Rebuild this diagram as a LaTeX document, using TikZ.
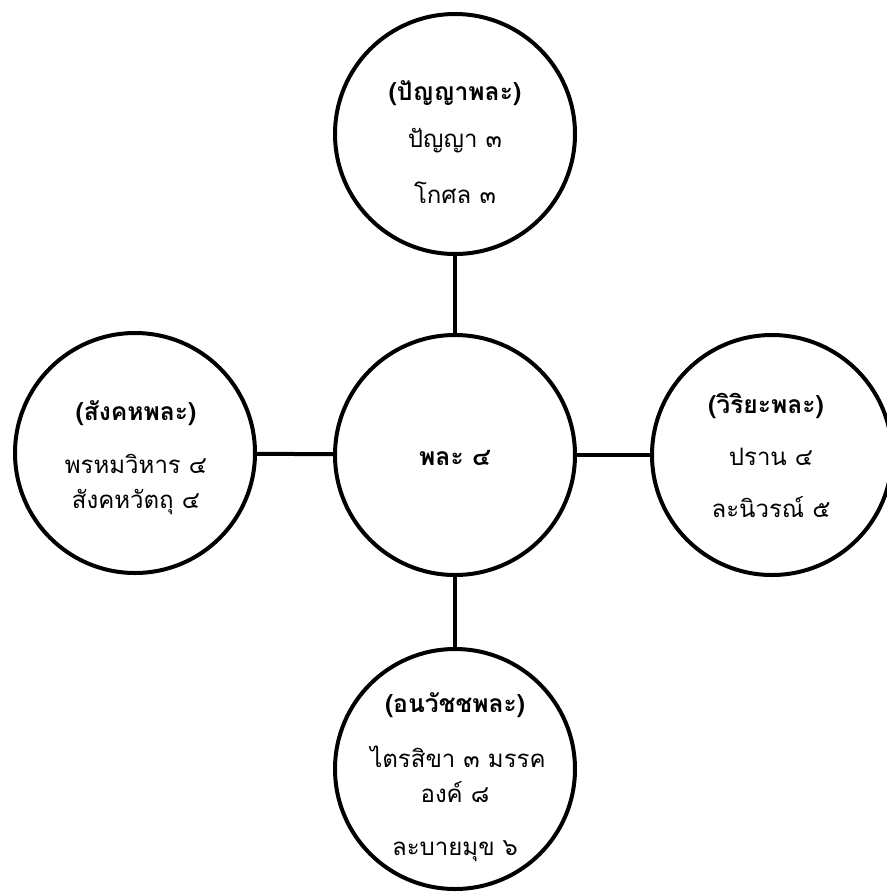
\documentclass[tikz,border=0pt]{standalone}
\usepackage{fontspec}
\newfontfamily\thaifont[Script=Thai]{Loma}
\begin{document}
\begin{tikzpicture}[x=0.75pt,y=-0.75pt,
    ring/.style={circle,draw,line width=3pt,minimum size=180pt,inner sep=0pt},
    txt/.style={anchor=base,font=\thaifont\fontsize{18}{21}\selectfont},
    head/.style={anchor=base,font=\thaifont\bfseries\fontsize{18.5}{21}\selectfont}]
    \useasboundingbox (0,0) rectangle (886,893);

    % Draw the circles
    \node[ring] (pala) at (455,455) {};
    \node[ring] (panya) at (455,134) {};
    \node[ring] (sangkaha) at (135,453) {};
    \node[ring] (viriya) at (772,455) {};
    \node[ring] (anavajja) at (455,769) {};

    % Connectors
    \draw[line width=3pt] (pala) -- (panya);
    \draw[line width=3pt] (pala) -- (sangkaha);
    \draw[line width=3pt] (pala) -- (viriya);
    \draw[line width=3pt] (pala) -- (anavajja);

    % Centre label
    \node[head] (palaT) at (455,465) {พละ ๔};

    % Top circle
    \node[head] (panyaT) at (455,100) {(ปัญญาพละ)};
    \node[txt] (panyaA) at (455,147) {ปัญญา ๓};
    \node[txt] (panyaB) at (455,203) {โกศล ๓};

    % Left circle
    \node[head] (sangkahaT) at (136,420) {(สังคหพละ)};
    \node[txt] (sangkahaA) at (136,473) {พรหมวิหาร ๔};
    \node[txt] (sangkahaB) at (136,508) {สังคหวัตถุ ๔};

    % Right circle
    \node[head] (viriyaT) at (766,413) {(วิริยะพละ)};
    \node[txt] (viriyaA) at (771,465) {ปราน ๔};
    \node[txt] (viriyaB) at (771,517) {ละนิวรณ์ ๕};

    % Bottom circle
    \node[head] (anavajjaT) at (455,712) {(อนวัชชพละ)};
    \node[txt] (anavajjaA) at (458,767) {ไตรสิขา ๓ มรรค};
    \node[txt] (anavajjaB) at (455,802) {องค์ ๘};
    \node[txt] (anavajjaC) at (455,855) {ละบายมุข ๖};
\end{tikzpicture}
\end{document}
